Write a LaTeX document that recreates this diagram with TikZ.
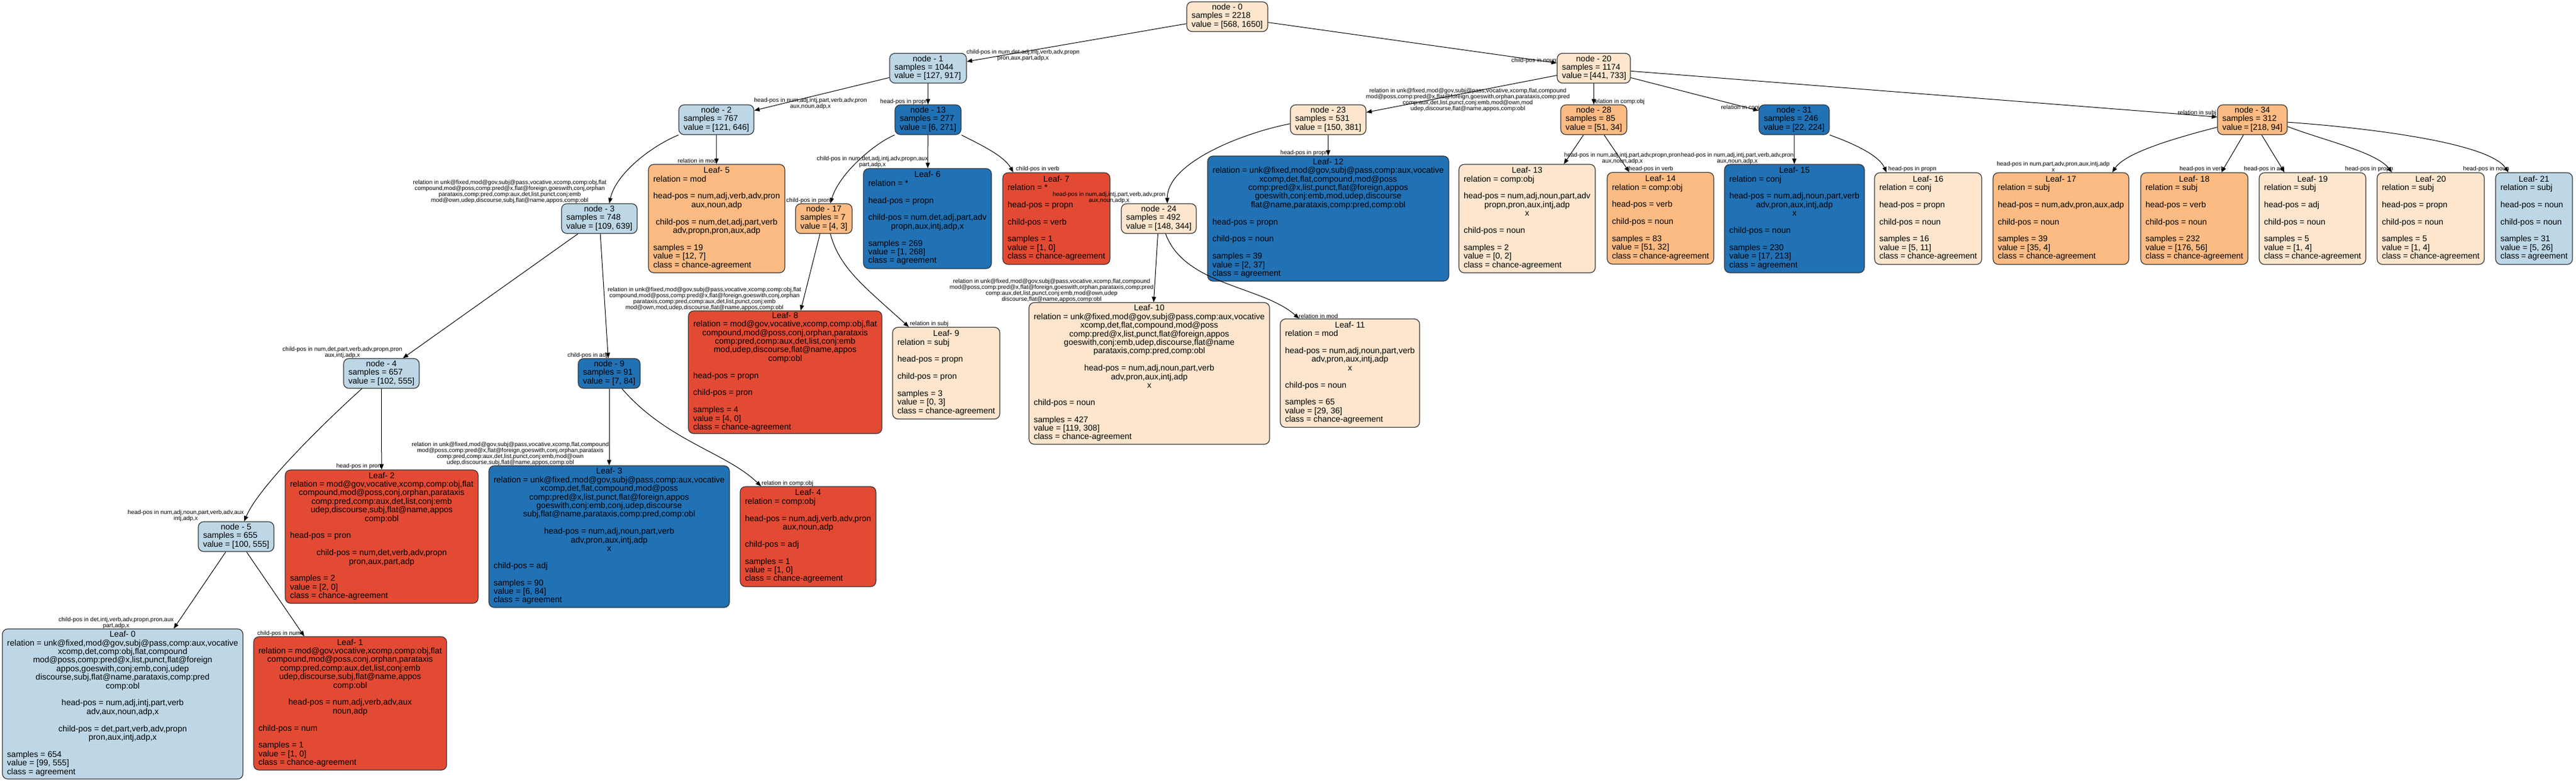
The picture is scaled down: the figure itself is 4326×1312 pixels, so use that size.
\documentclass[tikz,border=0pt]{standalone}
\usepackage{fontspec}
\setmainfont{Liberation Sans}
\usetikzlibrary{arrows.meta}
\definecolor{peach}{HTML}{FEE6CE}
\definecolor{orng}{HTML}{FDBB84}
\definecolor{redd}{HTML}{E34A33}
\definecolor{lblue}{HTML}{BDD7E7}
\definecolor{dblue}{HTML}{2171B5}
\newcommand\Lline[1]{\hbox to\hsize{\strut#1\hfil}}
\newcommand\Cline[1]{\hbox to\hsize{\hfil\strut#1\hfil}}
\newcommand\Eline{\hbox to\hsize{\strut\hfil}}
\newcommand\tbox[2]{\vbox{\hsize=#1pt\relax\baselineskip=14.4pt\lineskiplimit=-\maxdimen\lineskip=0pt\relax#2}}
\newcommand\inode[3]{\Cline{node - #1}\Lline{samples = #2}\Lline{value = [#3]}}
\newcommand\simpleleaf[7]{\Cline{Leaf- #1}\Lline{relation = #2}\Eline\Lline{head-pos = #3}\Eline\Lline{child-pos = #4}\Eline\Lline{samples = #5}\Lline{value = [#6]}\Lline{class = #7}}
\tikzset{
  bx/.style={draw=black!80, line width=1.2pt, rounded corners=9pt, inner sep=0pt, font=\fontsize{14}{14.4}\selectfont},
  arr/.style={-{Triangle[length=9pt,width=7pt]}, line width=1pt},
  lab/.style={font=\fontsize{10}{10}\selectfont, inner sep=0pt, align=center},
}
\begin{document}
\begin{tikzpicture}[x=1pt,y=1pt]
\fill[white] (0,-1312) rectangle (4326,0);
\useasboundingbox (0,-1312) rectangle (4326,0);

% internal nodes
\node[bx, fill=peach, minimum width=136pt, minimum height=50pt] (n0) at (2061,-28) {\tbox{120}{\inode{0}{2218}{568, 1650}}};
\node[bx, fill=lblue, minimum width=129pt, minimum height=50pt] (n1) at (1558.5,-114.5) {\tbox{113}{\inode{1}{1044}{127, 917}}};
\node[bx, fill=peach, minimum width=123pt, minimum height=50pt] (n20) at (2676.5,-114.5) {\tbox{107}{\inode{20}{1174}{441, 733}}};
\node[bx, fill=lblue, minimum width=126pt, minimum height=50pt] (n2) at (1203,-201) {\tbox{110}{\inode{2}{767}{121, 646}}};
\node[bx, fill=dblue, minimum width=111pt, minimum height=50pt] (n13) at (1558.5,-201) {\tbox{95}{\inode{13}{277}{6, 271}}};
\node[bx, fill=peach, minimum width=127pt, minimum height=50pt] (n23) at (2230.5,-201) {\tbox{111}{\inode{23}{531}{150, 381}}};
\node[bx, fill=orng, minimum width=111pt, minimum height=50pt] (n28) at (2676.5,-201) {\tbox{95}{\inode{28}{85}{51, 34}}};
\node[bx, fill=dblue, minimum width=118pt, minimum height=50pt] (n31) at (3013,-201) {\tbox{102}{\inode{31}{246}{22, 224}}};
\node[bx, fill=orng, minimum width=117pt, minimum height=50pt] (n34) at (3782.5,-201) {\tbox{101}{\inode{34}{312}{218, 94}}};
\node[bx, fill=lblue, minimum width=127pt, minimum height=50pt] (n3) at (1006.5,-367) {\tbox{111}{\inode{3}{748}{109, 639}}};
\node[bx, fill=orng, minimum width=95pt, minimum height=50pt] (n17) at (1383.5,-367) {\tbox{79}{\inode{17}{7}{4, 3}}};
\node[bx, fill=peach, minimum width=126pt, minimum height=50pt] (n24) at (1946,-367) {\tbox{110}{\inode{24}{492}{148, 344}}};
\node[bx, fill=lblue, minimum width=127pt, minimum height=50pt] (n4) at (640.5,-627) {\tbox{111}{\inode{4}{657}{102, 555}}};
\node[bx, fill=dblue, minimum width=104pt, minimum height=50pt] (n9) at (1023,-627) {\tbox{88}{\inode{9}{91}{7, 84}}};
\node[bx, fill=lblue, minimum width=127pt, minimum height=50pt] (n5) at (396.5,-901) {\tbox{111}{\inode{5}{655}{100, 555}}};

% leaves
\node[bx, fill=lblue, minimum width=404pt, minimum height=252pt] (l0) at (206,-1182) {\tbox{388}{%
\Cline{Leaf- 0}
\Cline{relation = unk@fixed,mod@gov,subj@pass,comp:aux,vocative}
\Cline{xcomp,det,comp:obj,flat,compound}
\Cline{mod@poss,comp:pred@x,list,punct,flat@foreign}
\Cline{appos,goeswith,conj:emb,conj,udep}
\Cline{discourse,subj,flat@name,parataxis,comp:pred}
\Cline{comp:obl}
\Eline
\Cline{head-pos = num,adj,intj,part,verb}
\Cline{adv,aux,noun,adp,x}
\Eline
\Cline{child-pos = det,part,verb,adv,propn}
\Cline{pron,aux,intj,adp,x}
\Eline
\Lline{samples = 654}
\Lline{value = [99, 555]}
\Lline{class = agreement}}};

\node[bx, fill=redd, minimum width=324pt, minimum height=224pt] (l1) at (588,-1181) {\tbox{308}{%
\Cline{Leaf- 1}
\Cline{relation = mod@gov,vocative,xcomp,comp:obj,flat}
\Cline{compound,mod@poss,conj,orphan,parataxis}
\Cline{comp:pred,comp:aux,det,list,conj:emb}
\Cline{udep,discourse,subj,flat@name,appos}
\Cline{comp:obl}
\Eline
\Cline{head-pos = num,adj,verb,adv,aux}
\Cline{noun,adp}
\Eline
\Lline{child-pos = num}
\Eline
\Lline{samples = 1}
\Lline{value = [1, 0]}
\Lline{class = chance-agreement}}};

\node[bx, fill=redd, minimum width=324pt, minimum height=224pt] (l2) at (641,-901) {\tbox{308}{%
\Cline{Leaf- 2}
\Cline{relation = mod@gov,vocative,xcomp,comp:obj,flat}
\Cline{compound,mod@poss,conj,orphan,parataxis}
\Cline{comp:pred,comp:aux,det,list,conj:emb}
\Cline{udep,discourse,subj,flat@name,appos}
\Cline{comp:obl}
\Eline
\Lline{head-pos = pron}
\Eline
\Cline{child-pos = num,det,verb,adv,propn}
\Cline{pron,aux,part,adp}
\Eline
\Lline{samples = 2}
\Lline{value = [2, 0]}
\Lline{class = chance-agreement}}};

\node[bx, fill=dblue, minimum width=404pt, minimum height=238pt] (l3) at (1023,-901) {\tbox{388}{%
\Cline{Leaf- 3}
\Cline{relation = unk@fixed,mod@gov,subj@pass,comp:aux,vocative}
\Cline{xcomp,det,flat,compound,mod@poss}
\Cline{comp:pred@x,list,punct,flat@foreign,appos}
\Cline{goeswith,conj:emb,conj,udep,discourse}
\Cline{subj,flat@name,parataxis,comp:pred,comp:obl}
\Eline
\Cline{head-pos = num,adj,noun,part,verb}
\Cline{adv,pron,aux,intj,adp}
\Cline{x}
\Eline
\Lline{child-pos = adj}
\Eline
\Lline{samples = 90}
\Lline{value = [6, 84]}
\Lline{class = agreement}}};

\node[bx, fill=redd, minimum width=228pt, minimum height=168pt] (l4) at (1357,-901) {\tbox{212}{%
\Cline{Leaf- 4}
\Lline{relation = comp:obj}
\Eline
\Cline{head-pos = num,adj,verb,adv,pron}
\Cline{aux,noun,adp}
\Eline
\Lline{child-pos = adj}
\Eline
\Lline{samples = 1}
\Lline{value = [1, 0]}
\Lline{class = chance-agreement}}};

\node[bx, fill=orng, minimum width=229pt, minimum height=182pt] (l5) at (1203.5,-367) {\tbox{213}{%
\Cline{Leaf- 5}
\Lline{relation = mod}
\Eline
\Cline{head-pos = num,adj,verb,adv,pron}
\Cline{aux,noun,adp}
\Eline
\Cline{child-pos = num,det,adj,part,verb}
\Cline{adv,propn,pron,aux,adp}
\Eline
\Lline{samples = 19}
\Lline{value = [12, 7]}
\Lline{class = chance-agreement}}};

\node[bx, fill=dblue, minimum width=215pt, minimum height=168pt] (l6) at (1557.5,-367) {\tbox{199}{%
\Cline{Leaf- 6}
\Lline{relation = *}
\Eline
\Lline{head-pos = propn}
\Eline
\Cline{child-pos = num,det,adj,part,adv}
\Cline{propn,aux,intj,adp,x}
\Eline
\Lline{samples = 269}
\Lline{value = [1, 268]}
\Lline{class = agreement}}};

\node[bx, fill=redd, minimum width=180pt, minimum height=154pt] (l7) at (1774,-367) {\tbox{164}{\simpleleaf{7}{*}{propn}{verb}{1}{1, 0}{chance-agreement}}};

\node[bx, fill=redd, minimum width=325pt, minimum height=206pt] (l8) at (1318.5,-625) {\tbox{309}{%
\Cline{Leaf- 8}
\Cline{relation = mod@gov,vocative,xcomp,comp:obj,flat}
\Cline{compound,mod@poss,conj,orphan,parataxis}
\Cline{comp:pred,comp:aux,det,list,conj:emb}
\Cline{mod,udep,discourse,flat@name,appos}
\Cline{comp:obl}
\Eline
\Lline{head-pos = propn}
\Eline
\Lline{child-pos = pron}
\Eline
\Lline{samples = 4}
\Lline{value = [4, 0]}
\Lline{class = chance-agreement}}};

\node[bx, fill=peach, minimum width=180pt, minimum height=154pt] (l9) at (1589,-626.5) {\tbox{164}{\simpleleaf{9}{subj}{propn}{pron}{3}{0, 3}{chance-agreement}}};

\node[bx, fill=peach, minimum width=404pt, minimum height=238pt] (l10) at (1930,-627) {\tbox{388}{%
\Cline{Leaf- 10}
\Cline{relation = unk@fixed,mod@gov,subj@pass,comp:aux,vocative}
\Cline{xcomp,det,flat,compound,mod@poss}
\Cline{comp:pred@x,list,punct,flat@foreign,appos}
\Cline{goeswith,conj:emb,udep,discourse,flat@name}
\Cline{parataxis,comp:pred,comp:obl}
\Eline
\Cline{head-pos = num,adj,noun,part,verb}
\Cline{adv,pron,aux,intj,adp}
\Cline{x}
\Eline
\Lline{child-pos = noun}
\Eline
\Lline{samples = 427}
\Lline{value = [119, 308]}
\Lline{class = chance-agreement}}};

\node[bx, fill=peach, minimum width=234pt, minimum height=182pt] (l11) at (2267,-626.5) {\tbox{218}{%
\Cline{Leaf- 11}
\Lline{relation = mod}
\Eline
\Cline{head-pos = num,adj,noun,part,verb}
\Cline{adv,pron,aux,intj,adp}
\Cline{x}
\Eline
\Lline{child-pos = noun}
\Eline
\Lline{samples = 65}
\Lline{value = [29, 36]}
\Lline{class = chance-agreement}}};

\node[bx, fill=dblue, minimum width=405pt, minimum height=210pt] (l12) at (2230.5,-367) {\tbox{389}{%
\Cline{Leaf- 12}
\Cline{relation = unk@fixed,mod@gov,subj@pass,comp:aux,vocative}
\Cline{xcomp,det,flat,compound,mod@poss}
\Cline{comp:pred@x,list,punct,flat@foreign,appos}
\Cline{goeswith,conj:emb,mod,udep,discourse}
\Cline{flat@name,parataxis,comp:pred,comp:obl}
\Eline
\Lline{head-pos = propn}
\Eline
\Lline{child-pos = noun}
\Eline
\Lline{samples = 39}
\Lline{value = [2, 37]}
\Lline{class = agreement}}};

\node[bx, fill=peach, minimum width=229pt, minimum height=182pt] (l13) at (2564.5,-367) {\tbox{213}{%
\Cline{Leaf- 13}
\Lline{relation = comp:obj}
\Eline
\Cline{head-pos = num,adj,noun,part,adv}
\Cline{propn,pron,aux,intj,adp}
\Cline{x}
\Eline
\Lline{child-pos = noun}
\Eline
\Lline{samples = 2}
\Lline{value = [0, 2]}
\Lline{class = chance-agreement}}};

\node[bx, fill=orng, minimum width=179pt, minimum height=154pt] (l14) at (2788.5,-366.5) {\tbox{163}{\simpleleaf{14}{comp:obj}{verb}{noun}{83}{51, 32}{chance-agreement}}};

\node[bx, fill=dblue, minimum width=235pt, minimum height=182pt] (l15) at (3013.5,-367) {\tbox{219}{%
\Cline{Leaf- 15}
\Lline{relation = conj}
\Eline
\Cline{head-pos = num,adj,noun,part,verb}
\Cline{adv,pron,aux,intj,adp}
\Cline{x}
\Eline
\Lline{child-pos = noun}
\Eline
\Lline{samples = 230}
\Lline{value = [17, 213]}
\Lline{class = agreement}}};

\node[bx, fill=peach, minimum width=180pt, minimum height=154pt] (l16) at (3238,-367) {\tbox{164}{\simpleleaf{16}{conj}{propn}{noun}{16}{5, 11}{chance-agreement}}};
\node[bx, fill=orng, minimum width=228pt, minimum height=154pt] (l17) at (3461,-367) {\tbox{212}{\simpleleaf{17}{subj}{num,adv,pron,aux,adp}{noun}{39}{35, 4}{chance-agreement}}};
\node[bx, fill=orng, minimum width=180pt, minimum height=154pt] (l18) at (3685,-367) {\tbox{164}{\simpleleaf{18}{subj}{verb}{noun}{232}{176, 56}{chance-agreement}}};
\node[bx, fill=peach, minimum width=179pt, minimum height=154pt] (l19) at (3883.5,-367) {\tbox{163}{\simpleleaf{19}{subj}{adj}{noun}{5}{1, 4}{chance-agreement}}};
\node[bx, fill=peach, minimum width=180pt, minimum height=154pt] (l20) at (4082,-367) {\tbox{164}{\simpleleaf{20}{subj}{propn}{noun}{5}{1, 4}{chance-agreement}}};
\node[bx, fill=lblue, minimum width=129pt, minimum height=154pt] (l21) at (4255.5,-367) {\tbox{113}{\simpleleaf{21}{subj}{noun}{noun}{31}{5, 26}{agreement}}};

% straight connectors
\draw[arr] (n0) -- (n1);
\draw[arr] (n0) -- (n20);
\draw[arr] (n1) -- (n2);
\draw[arr] (n1) -- (n13);
\draw[arr] (n2) -- (l5);
\draw[arr] (n13) -- (l6);
\draw[arr] (n3) -- (n4);
\draw[arr] (n3) -- (n9);
\draw[arr] (n17) -- (l8);
\draw[arr] (n4) -- (l2);
\draw[arr] (n5) -- (l0);
\draw[arr] (n5) -- (l1);
\draw[arr] (n9) -- (l3);
\draw[arr] (n24) -- (l10);
\draw[arr] (n23) -- (l12);
\draw[arr] (n20) -- (n23);
\draw[arr] (n20) -- (n28);
\draw[arr] (n20) -- (n31);
\draw[arr] (n20) -- (n34);
\draw[arr] (n28) -- (l13);
\draw[arr] (n28) -- (l14);
\draw[arr] (n31) -- (l15);
\draw[arr] (n34) -- (l18);
\draw[arr] (n34) -- (l19);

% curved connectors
\draw[arr] (n2.south west) .. controls (1095,-245) and (1035,-290) .. (n3.57);
\draw[arr] (n13.south west) .. controls (1470,-240) and (1410,-290) .. (n17.67);
\draw[arr] (n13.south east) .. controls (1640,-240) and (1685,-260) .. (l7.133);
\draw[arr] (n17.293) .. controls (1410,-450) and (1450,-480) .. (l9.129);
\draw[arr] (n4.218) .. controls (558,-697) and (435,-815) .. (n5.62);
\draw[arr] (n9.310) .. controls (1120,-740) and (1220,-760) .. (l4.133);
\draw[arr] (n24.294) .. controls (1990,-480) and (2120,-480) .. (l11.133);
\draw[arr] (n23.186) .. controls (2080,-225) and (1960,-275) .. (n24.61);
\draw[arr] (n31.south east) .. controls (3110,-240) and (3155,-260) .. (l16.132);
\draw[arr] (n34.192) .. controls (3660,-230) and (3570,-255) .. (l17.42);
\draw[arr] (n34.349) .. controls (3900,-235) and (3990,-255) .. (l20.130);
\draw[arr] (n34.356) .. controls (3980,-215) and (4180,-240) .. (l21.119);

% edge labels
\node[lab] (e1) at (1718,-93) {child-pos in num,det,adj,intj,verb,adv,propn\\pron,aux,part,adp,x};
\node[lab, anchor=east] (e2) at (2614,-102) {child-pos in noun};
\node[lab] (e3) at (1361,-174) {head-pos in num,adj,intj,part,verb,adv,pron\\aux,noun,adp,x};
\node[lab, anchor=east] (e4) at (1559,-171) {head-pos in propn};
\node[lab] (e5) at (856,-322) {relation in unk@fixed,mod@gov,subj@pass,vocative,xcomp,comp:obj,flat\\compound,mod@poss,comp:pred@x,flat@foreign,goeswith,conj,orphan\\parataxis,comp:pred,comp:aux,det,list,punct,conj:emb\\mod@own,udep,discourse,subj,flat@name,appos,comp:obl};
\node[lab, anchor=east] (e6) at (1204,-270) {relation in mod};
\node[lab, anchor=east] (e7) at (1394,-337) {child-pos in pron};
\node[lab] (e8) at (1465,-272) {child-pos in num,det,adj,intj,adv,propn,aux\\part,adp,x};
\node[lab, anchor=west] (e9) at (1706,-284) {child-pos in verb};
\node[lab] (e10) at (575,-592) {child-pos in num,det,part,verb,adv,propn,pron\\aux,intj,adp,x};
\node[lab, anchor=east] (e11) at (1020,-597) {child-pos in adj};
\node[lab] (e12) at (1183,-502) {relation in unk@fixed,mod@gov,subj@pass,vocative,xcomp,comp:obj,flat\\compound,mod@poss,comp:pred@x,flat@foreign,goeswith,conj,orphan\\parataxis,comp:pred,comp:aux,det,list,punct,conj:emb\\mod@own,mod,udep,discourse,flat@name,appos,comp:obl};
\node[lab, anchor=west] (e13) at (1528,-544) {relation in subj};
\node[lab, anchor=east] (e14) at (640,-783) {head-pos in pron};
\node[lab] (e15) at (312,-866) {head-pos in num,adj,noun,part,verb,adv,aux\\intj,adp,x};
\node[lab] (e16) at (195,-1046) {child-pos in det,intj,verb,adv,propn,pron,aux\\part,adp,x};
\node[lab, anchor=west] (e17) at (432,-1064) {child-pos in num};
\node[lab] (e18) at (857,-761.5) {relation in unk@fixed,mod@gov,subj@pass,vocative,xcomp,flat,compound\\mod@poss,comp:pred@x,flat@foreign,goeswith,conj,orphan,parataxis\\comp:pred,comp:aux,det,list,punct,conj:emb,mod@own\\udep,discourse,subj,flat@name,appos,comp:obl};
\node[lab, anchor=west] (e19) at (1279,-812) {relation in comp:obj};
\node[lab] (e20) at (1766,-487.5) {relation in unk@fixed,mod@gov,subj@pass,vocative,xcomp,flat,compound\\mod@poss,comp:pred@x,flat@foreign,goeswith,orphan,parataxis,comp:pred\\comp:aux,det,list,punct,conj:emb,mod@own,udep\\discourse,flat@name,appos,comp:obl};
\node[lab, anchor=west] (e21) at (2181,-531) {relation in mod};
\node[lab, anchor=east] (e22) at (2231,-257) {head-pos in propn};
\node[lab] (e23) at (1862.5,-331.5) {head-pos in num,adj,intj,part,verb,adv,pron\\aux,noun,adp,x};
\node[lab] (e24) at (2465,-167.7) {relation in unk@fixed,mod@gov,subj@pass,vocative,xcomp,flat,compound\\mod@poss,comp:pred@x,flat@foreign,goeswith,orphan,parataxis,comp:pred\\comp:aux,det,list,punct,conj:emb,mod@own,mod\\udep,discourse,flat@name,appos,comp:obl};
\node[lab, anchor=west] (e25) at (2675,-171) {relation in comp:obj};
\node[lab, anchor=east] (e26) at (2955,-181) {relation in conj};
\node[lab, anchor=east] (e27) at (3722,-190) {relation in subj};
\node[lab] (e28) at (2724.5,-266) {head-pos in num,adj,intj,part,adv,propn,pron\\aux,noun,adp,x};
\node[lab, anchor=west] (e29) at (2735,-284) {head-pos in verb};
\node[lab] (e30) at (2917.5,-266) {head-pos in num,adj,intj,part,verb,adv,pron\\aux,noun,adp,x};
\node[lab, anchor=west] (e31) at (3171,-284) {head-pos in propn};
\node[lab] (e32) at (3448,-279.5) {head-pos in num,part,adv,pron,aux,intj,adp\\x};
\node[lab, anchor=east] (e33) at (3735,-284) {head-pos in verb};
\node[lab, anchor=east] (e34) at (3837,-284) {head-pos in adj};
\node[lab, anchor=east] (e35) at (4019,-284) {head-pos in propn};
\node[lab, anchor=east] (e36) at (4214,-284) {head-pos in noun};
\end{tikzpicture}
\end{document}
